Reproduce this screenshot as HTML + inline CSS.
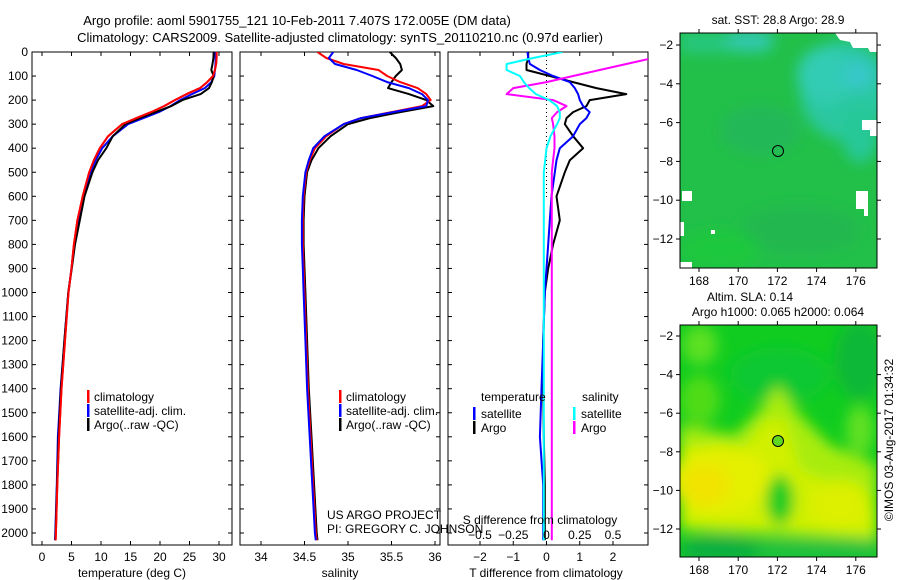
<!DOCTYPE html>
<html><head><meta charset="utf-8">
<style>
html,body{margin:0;padding:0;background:#fff;}
svg{display:block;font-family:"Liberation Sans",sans-serif;}
text{font-size:12px;fill:#000;}
</style></head>
<body>
<svg id="chart" width="900" height="580" viewBox="0 0 900 580" xmlns="http://www.w3.org/2000/svg">
<defs>
<clipPath id="cp1"><rect x="32" y="52" width="200" height="493"/></clipPath>
<clipPath id="cp2"><rect x="240" y="52" width="200" height="493"/></clipPath>
<clipPath id="cp3"><rect x="448" y="52" width="200" height="493"/></clipPath>
<clipPath id="cpm1"><rect x="680" y="33" width="197" height="235"/></clipPath>
<clipPath id="cpm2"><rect x="680" y="325" width="197" height="232"/></clipPath>
<filter id="blur" x="-20%" y="-20%" width="140%" height="140%"><feGaussianBlur stdDeviation="7"/></filter>
</defs>
<text x="297" y="25" text-anchor="middle" style="font-size:13px">Argo profile: aoml 5901755_121 10-Feb-2011 7.407S 172.005E (DM data)</text>
<text x="340" y="42" text-anchor="middle" style="font-size:13px">Climatology: CARS2009. Satellite-adjusted climatology: synTS_20110210.nc (0.97d earlier)</text>

<g id="p1"></g>
<g id="p2"></g>
<g id="p3"></g>

<!-- SST map -->
<g>
<g clip-path="url(#cpm1)">
<rect x="680" y="33" width="197" height="235" fill="#22c048"/>
<g filter="url(#blur)">
<rect x="680" y="33" width="90" height="20" fill="#26c880"/>
<ellipse cx="845" cy="90" rx="45" ry="50" fill="#2cc8a0"/>
<ellipse cx="825" cy="75" rx="28" ry="28" fill="#30ccb4"/>
<ellipse cx="858" cy="75" rx="16" ry="16" fill="#34c8c8"/>
<ellipse cx="750" cy="40" rx="25" ry="10" fill="#30c8b0"/>
<ellipse cx="860" cy="135" rx="18" ry="28" fill="#28c898"/>
<ellipse cx="760" cy="130" rx="40" ry="25" fill="#22b858"/>
<ellipse cx="800" cy="230" rx="60" ry="25" fill="#20b850"/>
<ellipse cx="720" cy="250" rx="40" ry="20" fill="#1cc83c"/>
</g>
<polygon points="835,33 877,33 877,52 870,52 868,48 853,48 850,42 840,40" fill="#fff"/>
<rect x="862" y="120" width="15" height="10" fill="#fff"/>
<rect x="870" y="130" width="7" height="6" fill="#fff"/>
<rect x="856" y="191" width="12" height="18" fill="#fff"/>
<rect x="864" y="209" width="4" height="7" fill="#fff"/>
<rect x="682" y="191" width="10" height="10" fill="#fff"/>
<rect x="680" y="222" width="4" height="14" fill="#fff"/>
<rect x="680" y="262" width="12" height="6" fill="#fff"/>
<rect x="711" y="230" width="4" height="4" fill="#fff"/>
</g>
<rect x="680" y="33" width="197" height="235" fill="none" stroke="#000"/>
<circle cx="778" cy="151" r="5.5" fill="none" stroke="#000"/>
</g>
<text x="778" y="24" text-anchor="middle">sat. SST: 28.8 Argo: 28.9</text>

<!-- SLA map -->
<g>
<g clip-path="url(#cpm2)">
<rect x="680" y="325" width="197" height="232" fill="#10cc20"/>
<g filter="url(#blur)">
<ellipse cx="700" cy="345" rx="18" ry="20" fill="#5ce020"/>
<ellipse cx="780" cy="375" rx="50" ry="28" fill="#08c830"/>
<ellipse cx="860" cy="360" rx="25" ry="40" fill="#10b838"/>
<ellipse cx="700" cy="400" rx="20" ry="25" fill="#50dc18"/>
<polygon points="680,425 735,435 760,410 778,385 800,415 830,445 877,465 877,540 680,530" fill="#a8ec10"/>
<polygon points="680,445 740,455 765,420 785,420 800,470 860,495 877,515 877,535 680,525" fill="#d0f000"/>
<ellipse cx="720" cy="480" rx="50" ry="35" fill="#e4f000"/>
<ellipse cx="705" cy="485" rx="25" ry="22" fill="#f0e400"/>
<ellipse cx="840" cy="505" rx="30" ry="25" fill="#dcf000"/>
<ellipse cx="780" cy="500" rx="14" ry="25" fill="#10cc20"/>
<ellipse cx="860" cy="430" rx="14" ry="25" fill="#60e020"/>
<rect x="680" y="540" width="197" height="20" fill="#20c040"/>
<ellipse cx="720" cy="550" rx="40" ry="15" fill="#10b040"/>
</g>
</g>
<rect x="680" y="325" width="197" height="232" fill="none" stroke="#000"/>
<circle cx="778" cy="441" r="5.5" fill="#60d820" stroke="#000"/>
</g>
<text x="750" y="301" text-anchor="middle">Altim. SLA: 0.14</text>
<text x="778" y="316" text-anchor="middle">Argo h1000: 0.065 h2000: 0.064</text>
<text transform="translate(893,440) rotate(-90)" text-anchor="middle">©IMOS 03-Aug-2017 01:34:32</text>

<g id="maps-axes"></g>
</svg>
<script>
// ---- data ----
const depths = [0,25,50,75,100,125,150,175,200,225,250,275,300,350,400,450,500,600,700,800,900,1000,1200,1400,1600,1800,2000,2030];
const climT = [29.6,29.6,29.5,29.3,29.0,28.0,26.8,24.5,22.5,20.7,18.5,16.0,13.6,11.2,9.8,8.8,8.0,6.9,6.0,5.4,5.0,4.5,3.9,3.3,2.9,2.6,2.35,2.3];
const satT  = [29.4,29.4,29.4,29.3,29.2,28.7,27.6,25.4,23.4,21.8,19.8,17.2,14.6,12.0,10.2,9.1,8.2,7.0,6.1,5.45,5.0,4.45,3.8,3.15,2.7,2.5,2.25,2.2];
const argoT = [29.1,29.05,28.9,28.7,29.1,28.8,28.3,26.9,23.8,21.9,19.3,16.6,14.15,12.0,10.9,9.5,8.55,7.2,6.4,5.6,5.05,4.45,3.8,3.2,2.82,2.55,2.3,2.25];
const climS = [34.65,34.75,34.95,35.35,35.45,35.6,35.8,35.9,35.95,35.85,35.5,35.15,34.95,34.75,34.62,34.56,34.52,34.49,34.48,34.48,34.49,34.5,34.52,34.54,34.57,34.6,34.63,34.64];
const satS  = [34.83,34.78,34.85,35.1,35.28,35.45,35.7,35.85,35.92,35.9,35.52,35.15,34.95,34.73,34.6,34.55,34.51,34.48,34.47,34.47,34.48,34.49,34.51,34.53,34.56,34.59,34.62,34.63];
const argoS = [35.48,35.55,35.6,35.62,35.55,35.5,35.46,35.7,35.9,35.98,35.6,35.25,35.0,34.8,34.66,34.58,34.53,34.5,34.49,34.49,34.5,34.51,34.53,34.55,34.58,34.61,34.64,34.65];
const dTsat  = [-0.57,-0.55,-0.5,-0.2,0.2,0.7,0.85,0.95,1.0,1.1,1.3,1.2,1.0,0.8,0.4,0.3,0.25,0.15,0.1,0.05,0.0,-0.05,-0.1,-0.15,-0.2,-0.1,-0.1,-0.1];
const dTargo = [-0.55,-0.55,-0.6,-0.6,0.1,0.8,1.5,2.4,1.3,1.2,0.8,0.6,0.55,0.8,1.1,0.7,0.55,0.3,0.4,0.2,0.05,-0.05,-0.1,-0.1,-0.08,-0.05,-0.05,-0.05];
const dSsat  = [0.12,-0.1,-0.3,-0.3,-0.2,-0.17,-0.13,-0.08,0.02,0.08,0.1,0.1,0.08,0.03,0.0,-0.01,-0.02,-0.02,-0.02,-0.02,-0.02,-0.02,-0.02,-0.02,-0.02,-0.02,-0.02,-0.02];
const dSargo = [0.9,0.8,0.6,0.4,0.2,0.0,-0.25,-0.3,0.05,0.15,0.08,0.04,0.05,0.06,0.06,0.05,0.04,0.04,0.04,0.04,0.04,0.04,0.04,0.04,0.04,0.04,0.04,0.04];
const depthTicks = [0,100,200,300,400,500,600,700,800,900,1000,1100,1200,1300,1400,1500,1600,1700,1800,1900,2000];
const tTicks = [0,5,10,15,20,25,30];
const sTicks = [34,34.5,35,35.5,36];
const sTickLabels = ['34','34.5','35','35.5','36'];
const dTTicks = [-2,-1,0,1,2];
const dSTicks = [-0.5,-0.25,0,0.25,0.5];
const dSTickLabels = ['\u22120.5','\u22120.25','0','0.25','0.5'];
const latTicks = [-2,-4,-6,-8,-10,-12];
const lonTicks = [168,170,172,174,176];

const NS='http://www.w3.org/2000/svg';
function mk(parent,tag,attrs,txt){const e=document.createElementNS(NS,tag);for(const k in attrs)e.setAttribute(k,attrs[k]);if(txt!==undefined)e.textContent=txt;parent.appendChild(e);return e;}
const yD = d => 52 + d*0.2405;
function xLin(v0,x0,v1,x1){return v=>x0+(v-v0)*(x1-x0)/(v1-v0);}
const xT = xLin(0,42,30,219);
const xS = xLin(34,261,36,435);
const xDT = xLin(-2,480,2,613);
const xDS = xLin(-0.5,480,0.5,613);

function frame(g,x0){
  for(const d of depthTicks){
    const y=yD(d);
    const t1=mk(g,'line',{x1:x0,x2:x0+4,y1:y,y2:y,stroke:'#000'});
    
    
    mk(g,'line',{x1:x0+196,x2:x0+200,y1:y,y2:y,stroke:'#000'});
  }
}
function series(g,clip,vals,xf,color,name){
  const pts=depths.map((d,i)=>xf(vals[i]).toFixed(1)+','+yD(d).toFixed(1)).join(' ');
  const p=mk(g,'polyline',{points:pts,fill:'none',stroke:color,'stroke-width':2,'clip-path':clip,'stroke-linejoin':'round'});
  
  
}
function xticks(g,ticks,labels,xf,ylab){
  ticks.forEach((t,i)=>{
    const x=xf(t);
    mk(g,'line',{x1:x,x2:x,y1:545,y2:541,stroke:'#000'});
    mk(g,'line',{x1:x,x2:x,y1:52,y2:56,stroke:'#000'});
    const tx=mk(g,'text',{x:x,y:ylab,'text-anchor':'middle'},labels[i]);
    
    
  });
}
function legend(g,x,items){
  items.forEach((it,i)=>{
    const y=398+i*14;
    mk(g,'rect',{x:x,y:y-8,width:2.5,height:13,fill:it[1]});
    const t=mk(g,'text',{x:x+7,y:y+3},it[0]);
    
    
  });
}

// panel 1
const p1=document.getElementById('p1');
mk(p1,'rect',{x:32,y:52,width:200,height:493,fill:'none',stroke:'#000'});
frame(p1,32);
depthTicks.forEach(d=>{const t=mk(p1,'text',{x:28,y:yD(d)+4,'text-anchor':'end'},String(d));});
xticks(p1,tTicks,tTicks.map(String),xT,561);
series(p1,'url(#cp1)',climT,xT,'#f00','climatology-temperature-line');
series(p1,'url(#cp1)',satT,xT,'#00f','satellite-temperature-line');
series(p1,'url(#cp1)',argoT,xT,'#000','argo-temperature-line');
series(p1,'url(#cp1)',climT,xT,'#f00','climatology-temperature-line-top');
legend(p1,87,[['climatology','#f00'],['satellite-adj. clim.','#00f'],['Argo(..raw -QC)','#000']]);
const a1=mk(p1,'text',{x:132,y:577,'text-anchor':'middle'},'temperature (deg C)');



// panel 3 (drawn before panel 2 credit text so text overlaps)
const p3=document.getElementById('p3');
mk(p3,'rect',{x:448,y:52,width:200,height:493,fill:'none',stroke:'#000'});
frame(p3,448);
mk(p3,'line',{x1:xDT(0),x2:xDT(0),y1:52,y2:200,stroke:'#000','stroke-dasharray':'1,3'});
xticks(p3,dTTicks,dTTicks.map(v=>v<0?'\u2212'+(-v):String(v)),xDT,561);
series(p3,'url(#cp3)',dTargo,xDT,'#000','argo-temperature-difference-line');
series(p3,'url(#cp3)',dTsat,xDT,'#00f','satellite-temperature-difference-line');
series(p3,'url(#cp3)',dSargo,xDS,'#f0f','argo-salinity-difference-line');
series(p3,'url(#cp3)',dSsat,xDS,'#0ff','satellite-salinity-difference-line');
dSTicks.forEach((t,i)=>{const tx=mk(p3,'text',{x:xDS(t),y:539,'text-anchor':'middle'},dSTickLabels[i]);});
const sdt=mk(p3,'text',{x:540,y:524,'text-anchor':'middle'},'S difference from climatology');


const tdt=mk(p3,'text',{x:546,y:577,'text-anchor':'middle'},'T difference from climatology');


const lt=mk(p3,'text',{x:481,y:401},'temperature');


const ls=mk(p3,'text',{x:582,y:401},'salinity');


[['satellite','#00f',473],['Argo','#000',473],['satellite','#0ff',573],['Argo','#f0f',573]].forEach((it,i)=>{
  const y=415+(i%2)*14;
  mk(p3,'rect',{x:it[2],y:y-8,width:2.5,height:13,fill:it[1]});
  const t=mk(p3,'text',{x:it[2]+8,y:y+3},it[0]);
  
  
});

// panel 2
const p2=document.getElementById('p2');
mk(p2,'rect',{x:240,y:52,width:200,height:493,fill:'none',stroke:'#000'});
frame(p2,240);
xticks(p2,sTicks,sTickLabels,xS,561);
series(p2,'url(#cp2)',argoS,xS,'#000','argo-salinity-line');
series(p2,'url(#cp2)',climS,xS,'#f00','climatology-salinity-line');
series(p2,'url(#cp2)',satS,xS,'#00f','satellite-salinity-line');
legend(p2,339,[['climatology','#f00'],['satellite-adj. clim.','#00f'],['Argo(..raw -QC)','#000']]);
const a2=mk(p2,'text',{x:340,y:577,'text-anchor':'middle'},'salinity');


const c1=mk(p2,'text',{x:327,y:519},'US ARGO PROJECT');


const c2=mk(p2,'text',{x:327,y:533},'PI: GREGORY C. JOHNSON');



// map axes
const ma=document.getElementById('maps-axes');
function mapAxes(top,bottom,latY){
  latTicks.forEach(l=>{
    const y=latY(l);
    mk(ma,'line',{x1:680,x2:676,y1:y,y2:y,stroke:'#000'});
    mk(ma,'line',{x1:877,x2:881,y1:y,y2:y,stroke:'#000'});
    const t=mk(ma,'text',{x:673,y:y+4,'text-anchor':'end'},String(l).replace('-','\u2212'));
    
    
  });
  lonTicks.forEach(l=>{
    const x=699+(l-168)*19.6;
    mk(ma,'line',{x1:x,x2:x,y1:bottom,y2:bottom+4,stroke:'#000'});
    mk(ma,'line',{x1:x,x2:x,y1:top,y2:top-4,stroke:'#000'});
    const t=mk(ma,'text',{x:x,y:bottom+17,'text-anchor':'middle'},String(l));
    
    
  });
}
mapAxes(33,268,l=>45+(-2-l)*19.4);
mapAxes(325,557,l=>336+(-2-l)*19.3);
</script>
</body></html>
